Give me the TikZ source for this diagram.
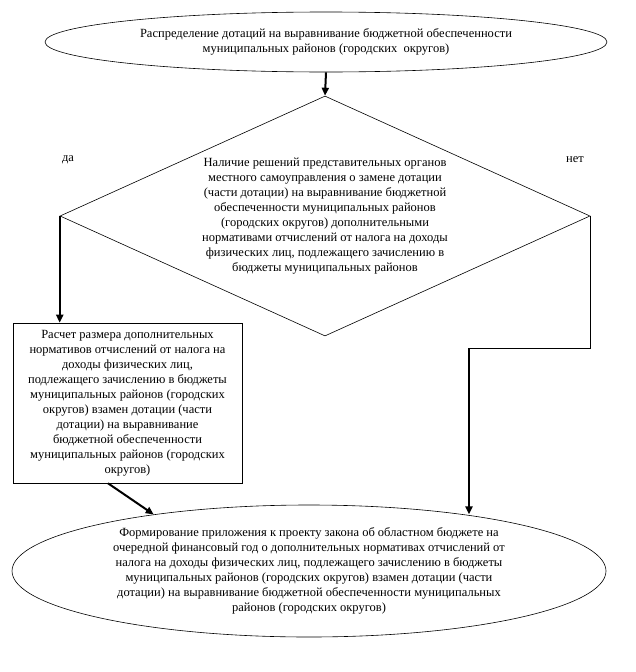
\documentclass[tikz,border=0pt]{standalone}
\usepackage{fontspec}
\setmainfont{Liberation Serif}
\usetikzlibrary{shapes.geometric,arrows.meta}

\begin{document}
\begin{tikzpicture}[x=1pt, y=-1pt, font=\fontsize{12.5}{15}\selectfont,
	thin line/.style={draw, line width=0.6pt},
	flow/.style={line width=2pt, -{Triangle[length=8pt,width=7pt]}}]
	\useasboundingbox (0,0) rectangle (636,672);
	\node [ellipse, thin line, inner sep=0, minimum width=562, minimum height=60, align=center] (start) at (326,42)
		{Распределение дотаций на выравнивание бюджетной обеспеченности\\муниципальных районов (городских~~округов)};
	\node [diamond, thin line, inner sep=0, minimum width=530, minimum height=240] (cond) at (325,216) {};
	\node [align=center] (condtext) at (325,216)
		{Наличие решений представительных органов\\местного самоуправления о замене дотации\\(части дотации) на выравнивание бюджетной\\обеспеченности муниципальных районов\\(городских округов) дополнительными\\нормативами отчислений от налога на доходы\\физических лиц, подлежащего зачислению в\\бюджеты муниципальных районов};
	\node [rectangle, thin line, inner sep=0, minimum width=229, minimum height=160, align=center] (calc) at (127.5,403)
		{Расчет размера дополнительных\\нормативов отчислений от налога на\\доходы физических лиц,\\подлежащего зачислению в бюджеты\\муниципальных районов (городских\\округов) взамен дотации (части\\дотации) на выравнивание\\бюджетной обеспеченности\\муниципальных районов (городских\\округов)};
	\node [ellipse, thin line, inner sep=0, minimum width=594, minimum height=132, align=center] (form) at (309,571)
		{Формирование приложения к проекту закона об областном бюджете на\\очередной финансовый год о дополнительных нормативах отчислений от\\налога на доходы физических лиц, подлежащего зачислению в бюджеты\\муниципальных районов (городских округов) взамен дотации (части\\дотации) на выравнивание бюджетной обеспеченности муниципальных\\районов (городских округов)};
	\node (yes) at (68,160) {да};
	\node (no) at (575,160) {нет};
	\coordinate (turn) at (469,348);
	\draw [flow] (start.south) -- (cond.north);
	\draw [flow] (cond.west) -- (cond.west |- calc.north);
	\draw [thin line] (cond.east) |- (turn);
	\draw [flow] (turn) -- (turn |- form.20);
	\draw [flow] ([xshift=-19.5pt]calc.south) -- (form.160);
\end{tikzpicture}
\end{document}
